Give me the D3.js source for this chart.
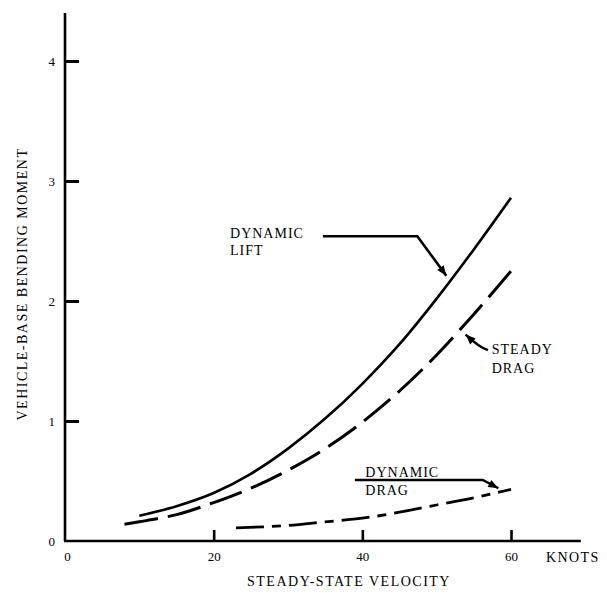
<!DOCTYPE html>
<html><head><meta charset="utf-8">
<script src="https://cdn.jsdelivr.net/npm/d3@7"></script>
<style>
body{margin:0;background:#fff}
svg{display:block}
text{font-family:"Liberation Serif","Times New Roman",serif;fill:#000}
</style>
</head><body><svg id="c" width="607" height="593"></svg>
<script>
// ---- data ----
const xTicks = [0, 20, 40, 60];
const yTicks = [0, 1, 2, 3, 4];
const liftV  = [10, 15, 20, 25, 30, 35, 40, 45, 50, 55, 60];
const liftM  = [0.21, 0.29, 0.40, 0.56, 0.77, 1.02, 1.31, 1.64, 2.02, 2.43, 2.86];
const steadyV = [8, 10, 15, 20, 25, 30, 35, 40, 45, 50, 55, 60];
const steadyM = [0.14, 0.16, 0.22, 0.32, 0.44, 0.59, 0.77, 0.99, 1.25, 1.55, 1.89, 2.25];
const dragV = [23, 30, 35, 40, 45, 50, 55, 60];
const dragM = [0.11, 0.13, 0.16, 0.19, 0.24, 0.30, 0.36, 0.43];
const xTitle = "STEADY-STATE VELOCITY";
const yTitle = "VEHICLE-BASE BENDING MOMENT";
const xUnit = "KNOTS";
const liftLabel = ["DYNAMIC", "LIFT"];
const steadyLabel = ["STEADY", "DRAG"];
const dragLabel = ["DYNAMIC", "DRAG"];

// ---- scales ----
const svg = d3.select("#c");
const x = d3.scaleLinear().domain([0, 60]).range([65, 511]);
const y = d3.scaleLinear().domain([0, 4]).range([541, 61]);
const xEnd = 69.4, yEnd = 4.4;

// arrow marker
svg.append("defs").append("marker")
  .attr("id", "ah").attr("viewBox", "0 0 10 8").attr("refX", 10).attr("refY", 4)
  .attr("markerWidth", 11).attr("markerHeight", 8).attr("markerUnits", "userSpaceOnUse")
  .attr("orient", "auto")
  .append("path").attr("d", "M0,0 L10,4 L0,8 Z").attr("fill", "#000");

// axes lines
svg.append("line").attr("x1", x(0)).attr("x2", x(0)).attr("y1", y(0)).attr("y2", y(yEnd))
  .attr("stroke", "#000").attr("stroke-width", 2.6);
svg.append("line").attr("x1", x(0) - 1).attr("x2", x(xEnd)).attr("y1", y(0)).attr("y2", y(0))
  .attr("stroke", "#000").attr("stroke-width", 2.6);

const yAxis = svg.append("g").attr("transform", `translate(${x(0)},0)`)
  .call(d3.axisLeft(y).tickValues(yTicks).tickSize(-14).tickSizeOuter(0).tickPadding(10).tickFormat(d3.format("d")));
yAxis.select(".domain").remove();
yAxis.selectAll(".tick line").attr("stroke", "#000").attr("stroke-width", 3)
  .filter(d => d === 0).remove();
yAxis.selectAll(".tick text").attr("font-size", 13).attr("font-family", "Liberation Serif").attr("fill", "#000");

const xAxis = svg.append("g").attr("transform", `translate(0,${y(0)})`)
  .call(d3.axisBottom(x).tickValues(xTicks).tickSize(-11).tickSizeOuter(0).tickPadding(11).tickFormat(d3.format("d")));
xAxis.select(".domain").remove();
xAxis.selectAll(".tick line").attr("stroke", "#000").attr("stroke-width", 2.6)
  .filter(d => d === 0).remove();
xAxis.selectAll(".tick text").attr("font-size", 13).attr("font-family", "Liberation Serif").attr("fill", "#000");
xAxis.selectAll(".tick").filter(d => d === 0).select("text").attr("x", 2);

// unit label
svg.append("text").attr("x", x(60) + 35).attr("y", y(0) + 20.5)
  .attr("font-size", 14).attr("letter-spacing", 1.4).text(xUnit);

// titles
svg.append("text").attr("x", 349).attr("y", 586).attr("text-anchor", "middle")
  .attr("font-size", 14).attr("letter-spacing", 1.5).text(xTitle);
svg.append("text").attr("transform", "translate(27,284) rotate(-90)").attr("text-anchor", "middle")
  .attr("font-size", 14).attr("letter-spacing", 1.5).text(yTitle);

// curves
const line = d3.line().x(d => x(d[0])).y(d => y(d[1])).curve(d3.curveMonotoneX);
svg.append("path").datum(liftV.map((v, i) => [v, liftM[i]])).attr("d", line)
  .attr("fill", "none").attr("stroke", "#000").attr("stroke-width", 2.6);
svg.append("path").datum(steadyV.map((v, i) => [v, steadyM[i]])).attr("d", line)
  .attr("fill", "none").attr("stroke", "#000").attr("stroke-width", 3)
  .attr("stroke-dasharray", "34,10");
svg.append("path").datum(dragV.map((v, i) => [v, dragM[i]])).attr("d", line)
  .attr("fill", "none").attr("stroke", "#000").attr("stroke-width", 2.8)
  .attr("stroke-dasharray", "28,8,9,8");

// annotations
function label(lines, v, m, dy) {
  lines.forEach((t, i) => svg.append("text").attr("x", x(v)).attr("y", y(m) + i * dy)
    .attr("font-size", 14).attr("letter-spacing", 1).text(t));
}
label(liftLabel, 22.2, 2.525, 17);
svg.append("path")
  .attr("d", `M${x(34.7)},${y(2.54)} L${x(47.4)},${y(2.54)} L${x(51.3)},${y(2.21)}`)
  .attr("fill", "none").attr("stroke", "#000").attr("stroke-width", 2.6).attr("marker-end", "url(#ah)");

label(steadyLabel, 57.4, 1.56, 19);
svg.append("path")
  .attr("d", `M${x(56.9)},${y(1.59)} Q${x(55.6)},${y(1.62)} ${x(53.9)},${y(1.72)}`)
  .attr("fill", "none").attr("stroke", "#000").attr("stroke-width", 2.4).attr("marker-end", "url(#ah)");

label(dragLabel, 40.4, 0.533, 18);
svg.append("path")
  .attr("d", `M${x(39.0)},${y(0.508)} L${x(56.2)},${y(0.508)} L${x(58.3)},${y(0.44)}`)
  .attr("fill", "none").attr("stroke", "#000").attr("stroke-width", 2.4).attr("marker-end", "url(#ah)");
</script>
</body></html>
